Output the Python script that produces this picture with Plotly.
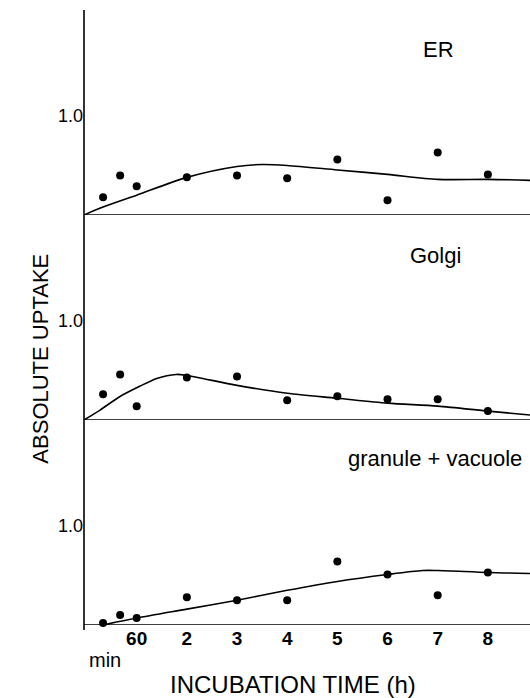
import plotly.graph_objects as go

# ---- data (time in hours; 20, 40, 60 min = 0.33, 0.67, 1.0 h) ----
t_points = [0.33, 0.67, 1.0, 2, 3, 4, 5, 6, 7, 8]

er_points = [0.18, 0.40, 0.29, 0.38, 0.40, 0.37, 0.56, 0.15, 0.63, 0.41]
golgi_points = [0.26, 0.46, 0.14, 0.43, 0.44, 0.20, 0.24, 0.21, 0.21, 0.09]
gran_points = [0.02, 0.10, 0.07, 0.28, 0.25, 0.25, 0.64, 0.51, 0.30, 0.53]

er_curve_t = [-0.05, 0.33, 1.0, 2.0, 3.0, 3.5, 4.0, 5.0, 6.0, 7.0, 8.0, 8.84]
er_curve_v = [0.0, 0.08, 0.20, 0.38, 0.49, 0.51, 0.50, 0.455, 0.41, 0.36, 0.36, 0.35]

golgi_curve_t = [-0.05, 0.27, 0.66, 1.06, 1.4, 1.79, 2.0, 3.0, 4.0, 5.0, 6.0, 7.0, 8.0, 8.84]
golgi_curve_v = [0.0, 0.10, 0.235, 0.34, 0.42, 0.46, 0.45, 0.35, 0.27, 0.22, 0.17, 0.14, 0.09, 0.05]

gran_curve_t = [0.33, 1.0, 2.0, 3.0, 4.0, 5.0, 6.0, 6.7, 7.0, 8.0, 8.84]
gran_curve_v = [0.0, 0.07, 0.16, 0.25, 0.35, 0.44, 0.51, 0.55, 0.55, 0.53, 0.52]

tick_vals = [1, 2, 3, 4, 5, 6, 7, 8]
tick_text = ["<b>60</b>", "<b>2</b>", "<b>3</b>", "<b>4</b>", "<b>5</b>", "<b>6</b>", "<b>7</b>", "<b>8</b>"]

panel_labels = ["ER", "Golgi", "granule + vacuole"]

FONT = "Liberation Sans, Arial, sans-serif"

fig = go.Figure()

panels = [
    ("y", er_curve_t, er_curve_v, er_points),
    ("y2", golgi_curve_t, golgi_curve_v, golgi_points),
    ("y3", gran_curve_t, gran_curve_v, gran_points),
]
for yref, ct, cv, pts in panels:
    fig.add_trace(go.Scatter(x=ct, y=cv, mode="lines", xaxis="x", yaxis=yref,
                             line=dict(color="black", width=1.6, shape="spline", smoothing=0.8),
                             showlegend=False, hoverinfo="skip"))
    fig.add_trace(go.Scatter(x=t_points, y=pts, mode="markers", xaxis="x", yaxis=yref,
                             marker=dict(color="black", size=8),
                             showlegend=False, cliponaxis=False))

yrange = [0, 2.07]
yax = dict(range=yrange, showgrid=False, zeroline=False, showline=False,
           tickvals=[1], ticktext=["1.0"], ticks="", anchor="x",
           tickfont=dict(family=FONT, size=18, color="black"))

fig.update_layout(
    width=530, height=698,
    margin=dict(l=84, r=0, t=10, b=73),
    paper_bgcolor="white", plot_bgcolor="white",
    xaxis=dict(range=[-0.05, 8.84], domain=[0, 1], anchor="y3",
               showgrid=False, zeroline=False, showline=False,
               tickvals=tick_vals, ticktext=tick_text, ticks="",
               tickfont=dict(family=FONT, size=19, color="black")),
    yaxis=dict(domain=[2/3, 1], **yax),
    yaxis2=dict(domain=[1/3, 2/3], **yax),
    yaxis3=dict(domain=[0, 1/3], **yax),
)

# vertical axis line and panel baselines
fig.add_shape(type="line", xref="paper", yref="paper", x0=0, x1=0, y0=-0.008, y1=1,
              line=dict(color="black", width=1.6))
for yref in ["y", "y2", "y3"]:
    fig.add_shape(type="line", xref="paper", yref=yref, x0=0, x1=1, y0=0, y1=0,
                  line=dict(color="black", width=1.6))

# panel labels
label_pos = [("y", 7.02, 1.67), ("y2", 6.96, 1.66), ("y3", 6.94, 1.68)]
for (yref, lx, ly), txt in zip(label_pos, panel_labels):
    fig.add_annotation(x=lx, y=ly, xref="x", yref=yref, text=txt, showarrow=False,
                       font=dict(family=FONT, size=22, color="black"))

# "min" label under the axis
fig.add_annotation(x=0.37, y=0, xref="x", yref="paper", yshift=-35, yanchor="middle",
                   text="min", showarrow=False,
                   font=dict(family=FONT, size=20, color="black"))

# axis titles
fig.add_annotation(x=4.11, y=0, xref="x", yref="paper", yshift=-59, yanchor="middle",
                   text="INCUBATION TIME (h)", showarrow=False,
                   font=dict(family=FONT, size=24, color="black"))
fig.add_annotation(x=-0.132, y=0.4325, xref="paper", yref="paper", textangle=-90,
                   text="ABSOLUTE UPTAKE", showarrow=False,
                   font=dict(family=FONT, size=22, color="black"))

fig.write_html("out.html")
